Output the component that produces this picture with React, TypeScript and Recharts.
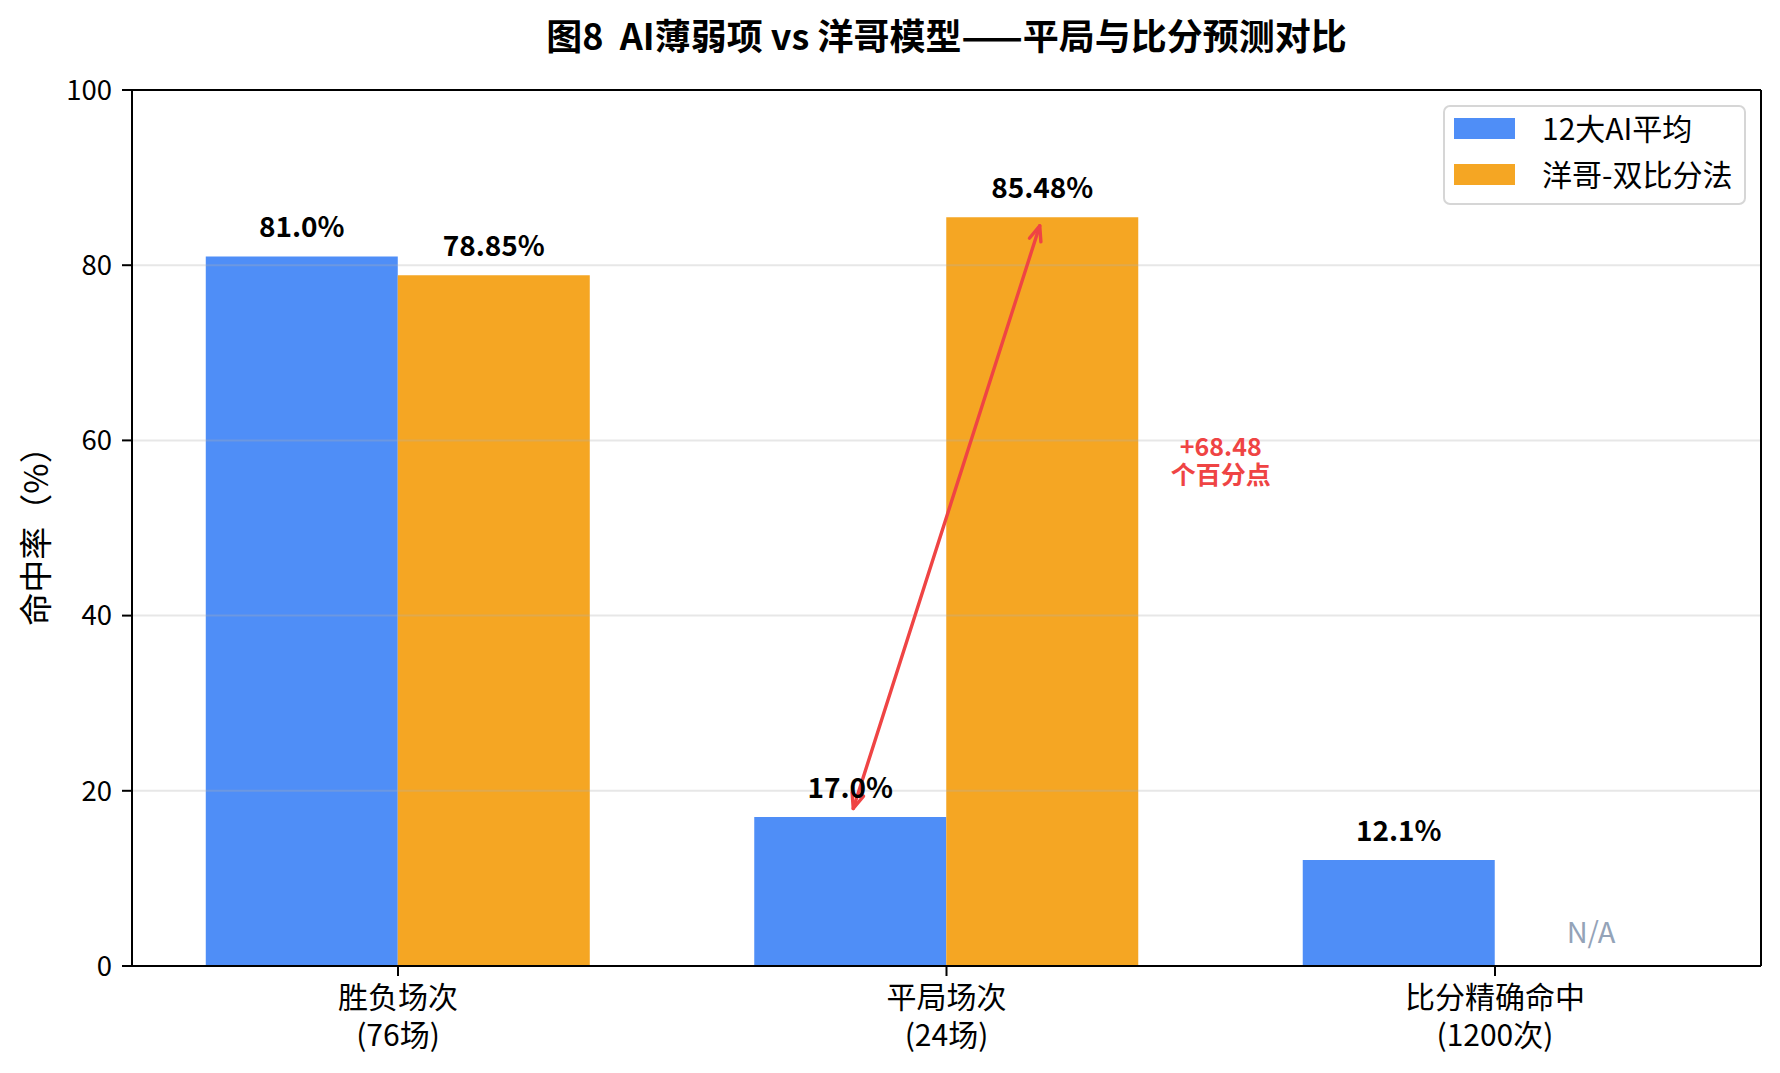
import type { FC } from 'react';
import {
  BarChart,
  Bar,
  XAxis,
  YAxis,
  Legend,
  LabelList,
  ReferenceLine,
  ReferenceDot,
} from 'recharts';

const categoryNames = ['胜负场次', '平局场次', '比分精确命中'];
const categoryCounts = ['(76场)', '(24场)', '(1200次)'];
const aiAvg = [81.0, 17.0, 12.1];
const yangge: (number | null)[] = [78.85, 85.48, null];
const yTicks = [0, 20, 40, 60, 80, 100];
const gridTicks = [20, 40, 60, 80];

const seriesNames = ['12大AI平均', '洋哥-双比分法'];
const BLUE = '#4F8EF7';
const ORANGE = '#F5A623';
const RED = '#EF4444';

const BAR_W = 0.35;
const X_MIN = -BAR_W - 0.135;
const X_MAX = 2 + BAR_W + 0.135;

const data = categoryNames.map((_, i) => ({
  pos: i,
  ai: aiAvg[i],
  yg: yangge[i],
}));

const FONT = '"Noto Sans CJK SC", "Noto Sans", sans-serif';

const CategoryTick = (props: any) => {
  const { x, y, payload } = props;
  const i = payload.value;
  return (
    <g fontSize={30} fill="#000" fontFamily={FONT}>
      <text x={x} y={y + 32} textAnchor="middle">
        {categoryNames[i]}
      </text>
      <text x={x} y={y + 69.5} textAnchor="middle">
        {categoryCounts[i]}
      </text>
    </g>
  );
};

const DoubleArrow = (props: any) => {
  const { x1, y1, x2, y2 } = props;
  const dx = x2 - x1;
  const dy = y2 - y1;
  const len = Math.sqrt(dx * dx + dy * dy);
  const ux = dx / len;
  const uy = dy / len;
  const shrink = 9;
  const ax = x1 + ux * shrink;
  const ay = y1 + uy * shrink;
  const bx = x2 - ux * shrink;
  const by = y2 - uy * shrink;
  const hl = 15;
  const hw = 6;
  const px = -uy;
  const py = ux;
  const head = (tx: number, ty: number, dirx: number, diry: number) =>
    `M ${tx - dirx * hl + px * hw} ${ty - diry * hl + py * hw} L ${tx} ${ty} L ${
      tx - dirx * hl - px * hw
    } ${ty - diry * hl - py * hw}`;
  return (
    <g stroke={RED} strokeWidth={3.4} fill="none" strokeLinecap="round" strokeLinejoin="round">
      <line x1={ax} y1={ay} x2={bx} y2={by} />
      <path d={head(bx, by, ux, uy)} />
      <path d={head(ax, ay, -ux, -uy)} />
    </g>
  );
};

const DiffText = (props: any) => {
  const { cx, cy } = props;
  const diff = (Number(yangge[1]) - aiAvg[1]).toFixed(2);
  return (
    <g fill={RED} fontSize={25} fontWeight="bold" fontFamily={FONT}>
      <text x={cx} y={cy - 6} textAnchor="middle">{`+${diff}`}</text>
      <text x={cx} y={cy + 22} textAnchor="middle">个百分点</text>
    </g>
  );
};

const NaText = (props: any) => {
  const { cx, cy } = props;
  return (
    <text x={cx} y={cy} textAnchor="middle" fill="#94A3B8" fontSize={29} fontFamily={FONT}>
      N/A
    </text>
  );
};

const LegendBox = (props: any) => {
  const { payload } = props;
  return (
    <div
      style={{
        width: 303,
        height: 100,
        boxSizing: 'border-box',
        border: '2px solid #d6d6d6',
        borderRadius: 7,
        background: '#fff',
        position: 'relative',
        fontFamily: FONT,
      }}
    >
      {(payload || []).map((entry: any, i: number) => (
        <div
          key={i}
          style={{
            position: 'absolute',
            left: 9,
            top: -1 + i * 46,
            height: 41,
            display: 'flex',
            alignItems: 'center',
          }}
        >
          <div style={{ width: 61, height: 21, marginTop: 3, background: entry.color }} />
          <span style={{ marginLeft: 27, fontSize: 30, color: '#000', lineHeight: 1, whiteSpace: 'nowrap' }}>
            {entry.value}
          </span>
        </div>
      ))}
    </div>
  );
};

const App: FC = () => {
  return (
    <div
      style={{
        position: 'absolute',
        left: 0,
        top: 0,
        width: 1780,
        height: 1073,
        background: '#fff',
        fontFamily: FONT,
      }}
    >
      <div
        style={{
          position: 'absolute',
          left: 132,
          width: 1629,
          top: 16,
          textAlign: 'center',
          fontSize: 36,
          fontWeight: 'bold',
          lineHeight: 1,
          color: '#000',
        }}
      >
        图8&nbsp;&nbsp;AI薄弱项 vs 洋哥模型——平局与比分预测对比
      </div>
      <div
        style={{
          position: 'absolute',
          left: 34,
          top: 528,
          transform: 'translate(-50%, -50%) rotate(-90deg)',
          fontSize: 33,
          whiteSpace: 'nowrap',
          lineHeight: 1,
          color: '#000',
        }}
      >
        命中率（%）
      </div>
      <BarChart
        width={1780}
        height={1073}
        data={data}
        margin={{ top: 90, right: 19, bottom: 0, left: 0 }}
        barGap={0}
        style={{ fontFamily: FONT }}
      >
        <XAxis
          dataKey="pos"
          type="number"
          domain={[X_MIN, X_MAX]}
          ticks={[0, 1, 2]}
          interval={0}
          allowDataOverflow
          height={107}
          tickSize={10}
          tickMargin={0}
          tick={<CategoryTick />}
          tickLine={{ stroke: '#000', strokeWidth: 2 }}
          axisLine={{ stroke: '#000', strokeWidth: 2 }}
        />
        <YAxis
          domain={[0, 100]}
          ticks={yTicks}
          width={132}
          tickSize={10}
          tickMargin={10}
          allowDataOverflow
          tick={{ fill: '#000', fontSize: 27.5, fontFamily: FONT }}
          tickLine={{ stroke: '#000', strokeWidth: 2 }}
          axisLine={{ stroke: '#000', strokeWidth: 2 }}
        />
        <Legend
          layout="vertical"
          align="center"
          verticalAlign="middle"
          content={<LegendBox />}
          wrapperStyle={{ left: 1443, top: 105, width: 303, height: 100 }}
        />
        <Bar dataKey="ai" name={seriesNames[0]} fill={BLUE} barSize={192} isAnimationActive={false}>
          <LabelList
            dataKey="ai"
            position="top"
            offset={19}
            formatter={(v: any) => (v == null ? '' : `${Number(v).toFixed(1)}%`)}
            style={{ fill: '#000', fontSize: 28, fontWeight: 'bold', fontFamily: FONT }}
          />
        </Bar>
        <Bar dataKey="yg" name={seriesNames[1]} fill={ORANGE} barSize={192} isAnimationActive={false}>
          <LabelList
            dataKey="yg"
            position="top"
            offset={19}
            formatter={(v: any) => (v == null ? '' : `${Number(v).toFixed(2)}%`)}
            style={{ fill: '#000', fontSize: 28, fontWeight: 'bold', fontFamily: FONT }}
          />
        </Bar>
        {gridTicks.map((t) => (
          <ReferenceLine
            key={t}
            y={t}
            stroke="#b0b0b0"
            strokeOpacity={0.3}
            strokeWidth={2}
          />
        ))}
        <ReferenceLine y={100} stroke="#000" strokeWidth={2} ifOverflow="visible" />
        <ReferenceLine x={X_MAX} stroke="#000" strokeWidth={2} ifOverflow="visible" />
        <ReferenceLine
          segment={[
            { x: 1 - BAR_W / 2, y: aiAvg[1] },
            { x: 1 + BAR_W / 2, y: Number(yangge[1]) },
          ]}
          shape={<DoubleArrow />}
          ifOverflow="visible"
        />
        <ReferenceDot x={1.5} y={57.5} r={0} shape={<DiffText />} ifOverflow="visible" />
        <ReferenceDot x={2 + BAR_W / 2} y={2.6} r={0} shape={<NaText />} ifOverflow="visible" />
      </BarChart>
    </div>
  );
};

export default App;
